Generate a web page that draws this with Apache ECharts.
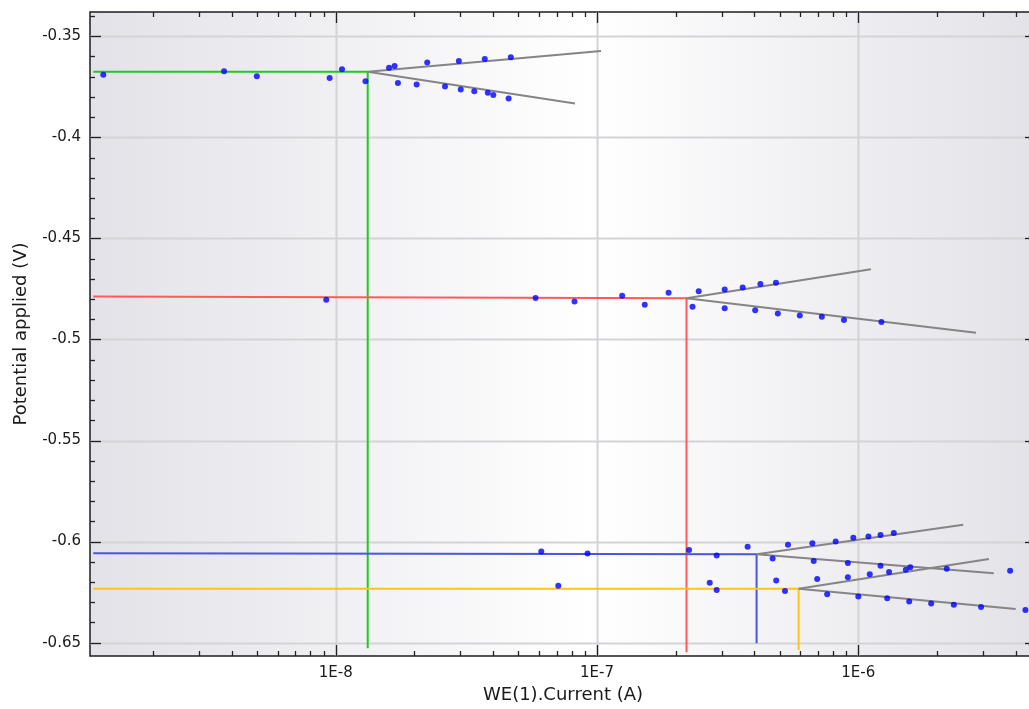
<!DOCTYPE html>
<html>
<head>
<meta charset="utf-8">
<script src="https://cdn.jsdelivr.net/npm/echarts@6/dist/echarts.min.js"></script>
<style>
html,body{margin:0;padding:0;background:#fff;}
#chart{width:1029px;height:709px;}
</style>
</head>
<body>
<div id="chart"></div>
<script>
// ---- axis ranges and ticks ----
const xRange = [1.1474e-9, 4.786e-6];
const yRange = [-0.6566, -0.338];
const xMajorTicks = [1e-8, 1e-7, 1e-6];
const xMinorDecades = [1e-9, 1e-8, 1e-7, 1e-6];
const xMinorMultipliers = [2, 3, 4, 5, 6, 7, 8, 9];
const yMajorTicks = [-0.65, -0.6, -0.55, -0.5, -0.45, -0.4, -0.35];
const yMinorTicks = [-0.64, -0.63, -0.62, -0.61, -0.59, -0.58, -0.57, -0.56, -0.54, -0.53, -0.52, -0.51,
  -0.49, -0.48, -0.47, -0.46, -0.44, -0.43, -0.42, -0.41, -0.39, -0.38, -0.37, -0.36, -0.34];

// ---- measured points (current A, potential V) ----
const greenPoints = [[1.29e-9,-0.3691],[3.74e-9,-0.3673],[4.99e-9,-0.3698],[9.48e-9,-0.3706],[1.057e-8,-0.3663],
  [1.30e-8,-0.3723],[1.60e-8,-0.3656],[1.68e-8,-0.3647],[1.73e-8,-0.3731],[2.04e-8,-0.3739],[2.24e-8,-0.3630],
  [2.62e-8,-0.3748],[2.96e-8,-0.3622],[3.01e-8,-0.3764],[3.39e-8,-0.3772],[3.72e-8,-0.3612],[3.82e-8,-0.3780],
  [4.01e-8,-0.3790],[4.59e-8,-0.3808],[4.68e-8,-0.3604]];
const redPoints = [[9.20e-9,-0.4803],[5.82e-8,-0.4795],[8.20e-8,-0.4812],[1.248e-7,-0.4784],[1.523e-7,-0.4828],
  [1.879e-7,-0.4769],[2.32e-7,-0.4838],[2.45e-7,-0.4761],[3.08e-7,-0.4845],[3.08e-7,-0.4753],[3.61e-7,-0.4743],
  [4.03e-7,-0.4855],[4.22e-7,-0.4726],[4.84e-7,-0.4719],[4.92e-7,-0.4871],[5.97e-7,-0.4881],[7.25e-7,-0.4888],
  [8.81e-7,-0.4904],[1.226e-6,-0.4914]];
const bluePoints = [[6.12e-8,-0.6049],[9.20e-8,-0.6059],[2.25e-7,-0.6041],[2.87e-7,-0.6069],[3.77e-7,-0.6026],
  [4.70e-7,-0.6084],[5.38e-7,-0.6016],[6.67e-7,-0.6008],[6.75e-7,-0.6096],[8.19e-7,-0.6000],[9.12e-7,-0.6106],
  [9.57e-7,-0.5981],[1.093e-6,-0.5975],[1.216e-6,-0.5968],[1.216e-6,-0.6120],[1.367e-6,-0.5957],[1.58e-6,-0.6127],
  [2.18e-6,-0.6134],[3.81e-6,-0.6144]];
const yellowPoints = [[7.11e-8,-0.6219],[2.70e-7,-0.6203],[2.87e-7,-0.6239],[4.85e-7,-0.6193],[5.24e-7,-0.6244],
  [6.96e-7,-0.6185],[7.60e-7,-0.6260],[9.12e-7,-0.6176],[1.0e-6,-0.6272],[1.106e-6,-0.6161],[1.29e-6,-0.6280],
  [1.311e-6,-0.6151],[1.52e-6,-0.6139],[1.566e-6,-0.6296],[1.90e-6,-0.6306],[2.32e-6,-0.6313],[2.95e-6,-0.6323],
  [4.36e-6,-0.6338]];

// ---- corrosion (Ecorr / icorr) construction lines ----
const greenCorr = [[1.181e-9,-0.3676],[1.3257e-8,-0.3676],[1.3257e-8,-0.6528]];
const redCorr = [[1.181e-9,-0.4788],[2.20e-7,-0.4796],[2.20e-7,-0.6548]];
const blueCorr = [[1.181e-9,-0.6058],[4.08e-7,-0.6063],[4.08e-7,-0.6503]];
const yellowCorr = [[1.181e-9,-0.6233],[5.91e-7,-0.6233],[5.91e-7,-0.6536]];

// ---- Tafel fit lines ----
const greenAnodic = [[1.3257e-8,-0.3676],[1.036e-7,-0.3573]];
const greenCathodic = [[1.3257e-8,-0.3676],[8.24e-8,-0.3833]];
const redAnodic = [[2.20e-7,-0.4796],[1.118e-6,-0.4653]];
const redCathodic = [[2.20e-7,-0.4796],[2.82e-6,-0.4967]];
const blueAnodic = [[4.08e-7,-0.6063],[2.52e-6,-0.5917]];
const blueCathodic = [[4.08e-7,-0.6063],[3.30e-6,-0.6157]];
const yellowAnodic = [[5.91e-7,-0.6233],[3.16e-6,-0.6086]];
const yellowCathodic = [[5.91e-7,-0.6233],[4.00e-6,-0.6333]];

const FONT = '"DejaVu Sans", Verdana, sans-serif';
const chart = echarts.init(document.getElementById('chart'), null, {renderer: 'canvas'});

function renderFrame(params, api) {
  const cs = params.coordSys;
  const left = cs.x, right = cs.x + cs.width, top = cs.y, bottom = cs.y + cs.height;
  const ch = [];
  const grid = {stroke: '#d4d4d7', lineWidth: 2};
  const tick = {stroke: '#222222', lineWidth: 1.3};
  xMajorTicks.forEach(v => {
    const px = Math.round(api.coord([v, yMajorTicks[0]])[0]) + 0.5;
    ch.push({type: 'line', shape: {x1: px, y1: top, x2: px, y2: bottom}, style: grid});
    ch.push({type: 'line', shape: {x1: px, y1: bottom, x2: px, y2: bottom - 11}, style: tick});
    ch.push({type: 'line', shape: {x1: px, y1: top, x2: px, y2: top + 11}, style: tick});
  });
  xMinorDecades.forEach(d => xMinorMultipliers.forEach(m => {
    const v = d * m;
    if (v < xRange[0] || v > xRange[1]) return;
    const px = Math.round(api.coord([v, yMajorTicks[0]])[0]) + 0.5;
    ch.push({type: 'line', shape: {x1: px, y1: bottom, x2: px, y2: bottom - 5}, style: tick});
    ch.push({type: 'line', shape: {x1: px, y1: top, x2: px, y2: top + 5}, style: tick});
  }));
  yMajorTicks.forEach(v => {
    const py = Math.round(api.coord([xMajorTicks[0], v])[1]) + 0.5;
    ch.push({type: 'line', shape: {x1: left, y1: py, x2: right, y2: py}, style: grid});
    ch.push({type: 'line', shape: {x1: left, y1: py, x2: left + 11, y2: py}, style: tick});
    ch.push({type: 'line', shape: {x1: right, y1: py, x2: right - 11, y2: py}, style: tick});
  });
  yMinorTicks.forEach(v => {
    const py = Math.round(api.coord([xMajorTicks[0], v])[1]) + 0.5;
    ch.push({type: 'line', shape: {x1: left, y1: py, x2: left + 5, y2: py}, style: tick});
    ch.push({type: 'line', shape: {x1: right, y1: py, x2: right - 5, y2: py}, style: tick});
  });
  return {type: 'group', children: ch};
}

function lineSeries(data, color, width, z) {
  return {type: 'line', data: data, showSymbol: false, symbol: 'none', silent: true, z: z,
    lineStyle: {color: color, width: width}, animation: false};
}
function scatterSeries(data) {
  return {type: 'scatter', data: data, symbol: 'circle', symbolSize: 6, z: 10, silent: true,
    itemStyle: {color: '#0000ff'}, animation: false};
}

const tafelColor = '#858585';
chart.setOption({
  animation: false,
  backgroundColor: '#ffffff',
  grid: {
    left: 90, top: 12, width: 946, height: 644, show: true,
    outerBoundsMode: 'none', containLabel: false,
    borderColor: '#1e1e1e', borderWidth: 1.5,
    backgroundColor: new echarts.graphic.LinearGradient(0, 0, 1, 0, [
      {offset: 0, color: '#e2e2e8'},
      {offset: 0.53, color: '#ffffff'},
      {offset: 1, color: '#e2e2e8'}
    ])
  },
  xAxis: {
    type: 'log', logBase: 10, min: xRange[0], max: xRange[1],
    name: 'WE(1).Current (A)', nameLocation: 'middle', nameGap: 30,
    nameTextStyle: {fontFamily: FONT, fontSize: 18, color: '#1a1a1a'},
    axisLine: {show: false}, axisTick: {show: false, customValues: xMajorTicks},
    splitLine: {show: false}, minorTick: {show: false},
    axisLabel: {customValues: xMajorTicks, margin: 10, fontFamily: FONT, fontSize: 15, color: '#1a1a1a',
      formatter: v => '1E' + Math.round(Math.log10(v))}
  },
  yAxis: {
    type: 'value', min: yRange[0], max: yRange[1],
    name: 'Potential applied (V)', nameLocation: 'middle', nameGap: 60,
    nameTextStyle: {fontFamily: FONT, fontSize: 18, color: '#1a1a1a'},
    axisLine: {show: false}, axisTick: {show: false, customValues: yMajorTicks},
    splitLine: {show: false},
    axisLabel: {customValues: yMajorTicks, margin: 9, fontFamily: FONT, fontSize: 15, color: '#1a1a1a',
      formatter: v => String(v)}
  },
  series: [
    {type: 'custom', renderItem: renderFrame, data: [[xMajorTicks[0], yMajorTicks[0]]], z: 1, silent: true, clip: false},
    lineSeries(greenCorr, '#22c822', 2, 3),
    lineSeries(redCorr, '#ff5a5a', 2, 3),
    lineSeries(blueCorr, '#4b55dd', 2, 3),
    lineSeries(yellowCorr, '#ffc414', 2, 3),
    lineSeries(greenAnodic, tafelColor, 2, 4),
    lineSeries(greenCathodic, tafelColor, 2, 4),
    lineSeries(redAnodic, tafelColor, 2, 4),
    lineSeries(redCathodic, tafelColor, 2, 4),
    lineSeries(blueAnodic, tafelColor, 2, 4),
    lineSeries(blueCathodic, tafelColor, 2, 4),
    lineSeries(yellowAnodic, tafelColor, 2, 4),
    lineSeries(yellowCathodic, tafelColor, 2, 4),
    scatterSeries(greenPoints),
    scatterSeries(redPoints),
    scatterSeries(bluePoints),
    scatterSeries(yellowPoints)
  ]
});
</script>
</body>
</html>
